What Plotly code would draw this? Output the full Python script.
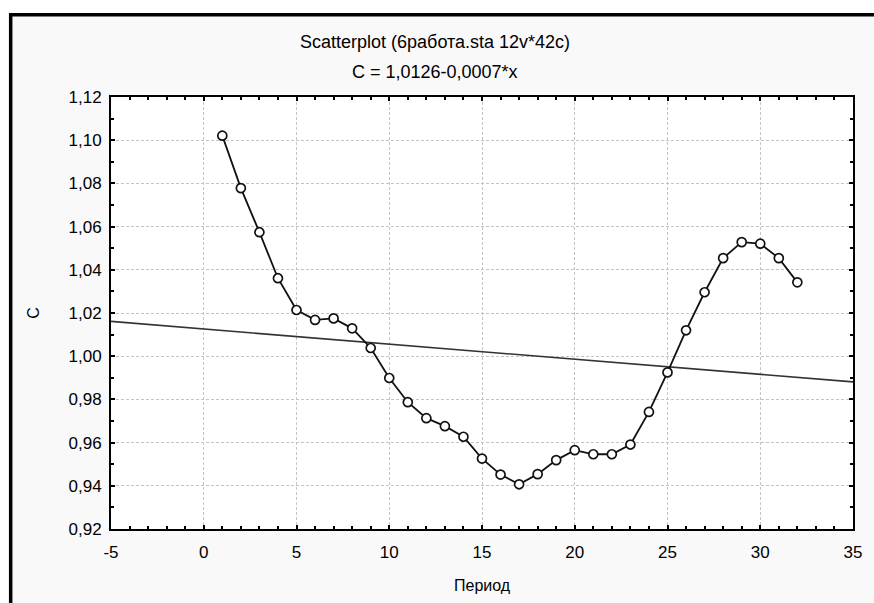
import plotly.graph_objects as go

# ---------------- data ----------------
period = list(range(1, 33))
c_values = [1.1021, 1.0778, 1.0574, 1.0361, 1.0214, 1.0168, 1.0175, 1.0129,
            1.0038, 0.9899, 0.9787, 0.9713, 0.9676, 0.9627, 0.9526, 0.9452,
            0.9407, 0.9454, 0.9519, 0.9565, 0.9546, 0.9546, 0.9591, 0.9742,
            0.9925, 1.0120, 1.0296, 1.0454, 1.0528, 1.0521, 1.0454, 1.0342]
fit_intercept = 1.0126
fit_slope = -0.0007

x_range = [-5, 35]
y_range = [0.92, 1.12]
x_tickvals = [-5, 0, 5, 10, 15, 20, 25, 30, 35]
x_ticktext = ["-5", "0", "5", "10", "15", "20", "25", "30", "35"]
y_tickvals = [0.92, 0.94, 0.96, 0.98, 1.00, 1.02, 1.04, 1.06, 1.08, 1.10, 1.12]
y_ticktext = ["0,92", "0,94", "0,96", "0,98", "1,00", "1,02", "1,04",
              "1,06", "1,08", "1,10", "1,12"]

title_line1 = "Scatterplot (6работа.sta 12v*42c)"
title_line2 = "C = 1,0126-0,0007*x"
x_title = "Период"
y_title = "C"

# ---------------- geometry ----------------
W, H = 874, 603
L, R, T, B = 111, 13, 97, 74
PW, PH = W - L - R, H - T - B


def px_x(p):
    return (p - L) / PW


def px_y(p):
    return (H - B - p) / PH


FONT = "Liberation Sans, Arial, sans-serif"
TXT = "#000000"

fit_x = x_range
fit_y = [fit_intercept + fit_slope * v for v in fit_x]

fig = go.Figure()
fig.add_trace(go.Scatter(
    x=fit_x, y=fit_y, mode="lines",
    line=dict(color="#333333", width=1.6),
    hoverinfo="skip", showlegend=False, cliponaxis=True))
fig.add_trace(go.Scatter(
    x=period, y=c_values, mode="lines+markers",
    line=dict(color="#111111", width=1.8),
    marker=dict(symbol="circle", size=9, color="white",
                line=dict(color="#111111", width=1.7)),
    showlegend=False, cliponaxis=False))

axis_common = dict(
    showline=True, linecolor="black", linewidth=2, mirror="ticks",
    ticks="inside", ticklen=4, tickwidth=1.5, tickcolor="black",
    showgrid=True, gridcolor="#c4c4c4", gridwidth=1, griddash="3px,2px",
    zeroline=False,
    tickfont=dict(family=FONT, size=17, color=TXT),
)

fig.update_xaxes(
    range=x_range, tickmode="array", tickvals=x_tickvals, ticktext=x_ticktext,
    ticklabelstandoff=7,
    minor=dict(ticks="inside", ticklen=3, tickwidth=1.5, tickcolor="black",
               dtick=1, tick0=0, showgrid=False),
    **axis_common)
fig.update_yaxes(
    range=y_range, tickmode="array", tickvals=y_tickvals, ticktext=y_ticktext,
    ticklabelstandoff=4,
    minor=dict(ticks="inside", ticklen=3, tickwidth=1.5, tickcolor="black",
               dtick=0.01, tick0=0.92, showgrid=False),
    **axis_common)

shapes = [
    # white area above the frame
    dict(type="rect", xref="paper", yref="paper", layer="below",
         x0=px_x(-20), x1=px_x(W + 20), y0=px_y(13), y1=px_y(-20),
         fillcolor="white", line=dict(width=0)),
    # white strip left of the frame
    dict(type="rect", xref="paper", yref="paper", layer="below",
         x0=px_x(-20), x1=px_x(8), y0=px_y(H + 20), y1=px_y(13),
         fillcolor="white", line=dict(width=0)),
    # frame top border
    dict(type="line", xref="paper", yref="paper", layer="above",
         x0=px_x(8), x1=px_x(W + 20), y0=px_y(14.8), y1=px_y(14.8),
         line=dict(color="black", width=3.5)),
    # frame left border
    dict(type="line", xref="paper", yref="paper", layer="above",
         x0=px_x(9.6), x1=px_x(9.6), y0=px_y(13), y1=px_y(H + 20),
         line=dict(color="black", width=3.5)),
]

annotations = [
    dict(text=title_line1, xref="paper", yref="paper",
         x=px_x(W / 2 + 1), y=px_y(42), showarrow=False,
         xanchor="center", yanchor="middle",
         font=dict(family=FONT, size=18, color=TXT)),
    dict(text=title_line2, xref="paper", yref="paper",
         x=px_x(W / 2 + 1), y=px_y(72), showarrow=False,
         xanchor="center", yanchor="middle",
         font=dict(family=FONT, size=18, color=TXT)),
    dict(text=x_title, xref="paper", yref="paper",
         x=px_x(487), y=px_y(585), showarrow=False,
         xanchor="center", yanchor="middle",
         font=dict(family=FONT, size=16, color=TXT)),
    dict(text=y_title, xref="paper", yref="paper",
         x=px_x(32), y=px_y(313), showarrow=False, textangle=-90,
         xanchor="center", yanchor="middle",
         font=dict(family=FONT, size=16, color=TXT)),
]

fig.update_layout(
    width=W, height=H,
    margin=dict(l=L, r=R, t=T, b=B, pad=0),
    paper_bgcolor="#f9f9f9", plot_bgcolor="white",
    font=dict(family=FONT, size=16, color=TXT),
    shapes=shapes, annotations=annotations,
    showlegend=False,
)

fig.write_html(
    "out.html",
    config={"displayModeBar": False},
    post_script="document.body.style.margin='0';"
                "document.body.style.padding='0';"
                "document.body.style.overflow='hidden';",
)
